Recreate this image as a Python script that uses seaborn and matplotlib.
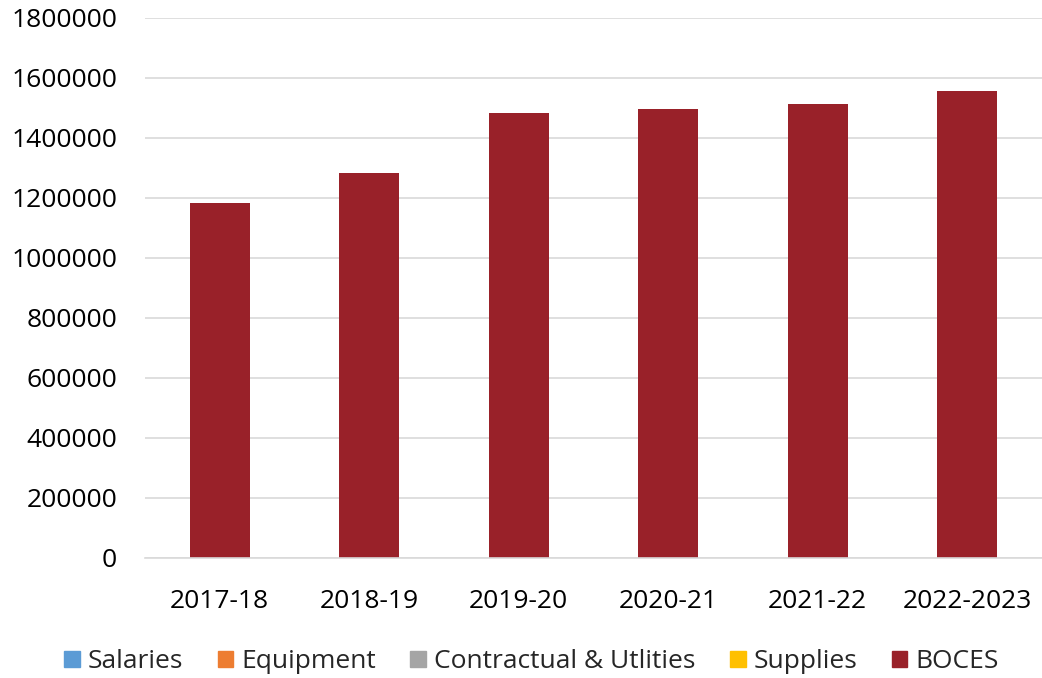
import matplotlib as mpl
mpl.use("Agg")
import matplotlib.pyplot as plt
import seaborn as sns
import numpy as np

years = ["2017-18", "2018-19", "2019-20", "2020-21", "2021-22", "2022-2023"]
salaries = [0, 0, 0, 0, 0, 0]
equipment = [0, 0, 0, 0, 0, 0]
contractual = [0, 0, 0, 0, 0, 0]
supplies = [0, 0, 0, 0, 0, 0]
boces = [1182000, 1282000, 1482000, 1498000, 1512000, 1558000]

series = [
    ("Salaries", salaries, "#5b9bd5"),
    ("Equipment", equipment, "#ed7d31"),
    ("Contractual & Utlities", contractual, "#a5a5a5"),
    ("Supplies", supplies, "#ffc000"),
    ("BOCES", boces, "#992129"),
]

sns.set_theme(style="white")
plt.rcParams["font.family"] = ["Open Sans", "DejaVu Sans"]

fig = plt.figure(figsize=(10.42, 6.78), dpi=100)
ax = fig.add_axes([0.139, 0.177, 0.861, 0.7965])

# stacked bars (only BOCES has non-zero values)
bottom = np.zeros(len(years))
handles = []
for name, vals, color in series:
    sns.barplot(x=years, y=vals, color=color, width=0.4, bottom=bottom,
                linewidth=0, ax=ax, saturation=1)
    handles.append(mpl.patches.Patch(color=color, label=name))
    bottom = bottom + np.array(vals)

ax.set_ylim(0, 1800000)
ax.set_xlim(-0.5, 5.5)
ax.set_yticks(np.arange(0, 1800001, 200000))
ax.yaxis.set_major_formatter(mpl.ticker.FuncFormatter(lambda v, p: f"{int(v)}"))
ax.grid(axis="y", color="#d9d9d9", linewidth=1.2)
ax.set_axisbelow(True)
for s in ["top", "right", "left"]:
    ax.spines[s].set_visible(False)
ax.spines["bottom"].set_color("#d9d9d9")
ax.spines["bottom"].set_linewidth(1.2)
ax.tick_params(axis="both", length=0, labelsize=19, colors="black")
ax.tick_params(axis="x", pad=22)
ax.tick_params(axis="y", pad=20)
ax.set_xlabel("")
ax.set_ylabel("")

fig.legend(handles=handles, loc="center", bbox_to_anchor=(0.51, 0.024),
           ncol=5, frameon=False, fontsize=19, handlelength=0.6,
           handleheight=0.6, handletextpad=0.3, columnspacing=1.3,
           borderaxespad=0)

fig.savefig("out.png", dpi=100)
